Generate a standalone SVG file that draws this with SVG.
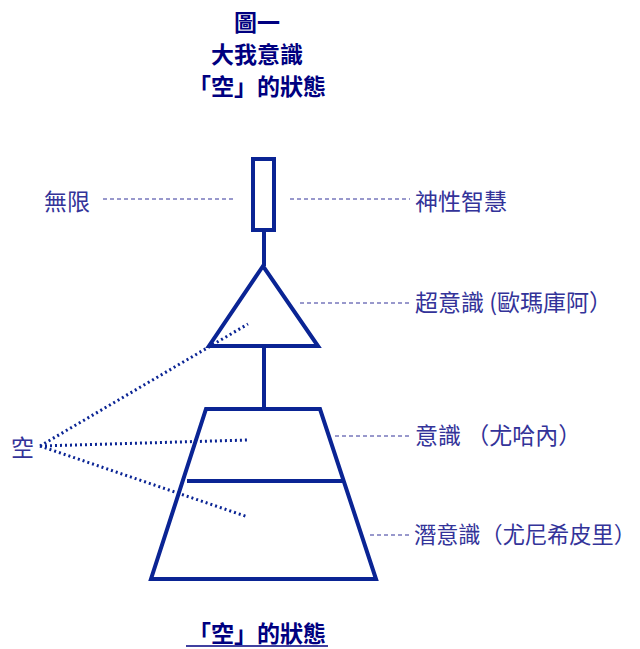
<svg xmlns="http://www.w3.org/2000/svg" width="640" height="649" viewBox="0 0 640 649">
<style>
.title{font-family:"Noto Sans CJK TC","Liberation Sans",sans-serif;font-weight:bold;font-size:23px;fill:#000080;text-anchor:middle}
.lbl{font-family:"Noto Sans CJK TC","Liberation Sans",sans-serif;font-size:23px;fill:#333399}
.shape{fill:none;stroke:#0a2494;stroke-width:4}
.dash{stroke:#333399;stroke-width:1;stroke-dasharray:4 3;fill:none}
.dot{stroke:#0a2494;stroke-width:3;stroke-dasharray:2 3;fill:none}
</style>
<rect width="640" height="649" fill="#fff"/>
<g id="title">
<text class="title" x="257" y="31">圖一</text>
<text class="title" x="257" y="63">大我意識</text>
<text class="title" x="257" y="95">「空」的狀態</text>
</g>
<g id="rect-node"><rect class="shape" x="253" y="159" width="21" height="71"/></g>
<g id="triangle-node"><polygon class="shape" points="263,266 209,346 318,346"/></g>
<g id="trapezoid-node">
<polygon class="shape" points="206,409 320,409 376,579 151,579"/>
<line class="shape" x1="187" y1="481" x2="343" y2="481"/>
</g>
<g id="connectors">
<line class="shape" x1="264" y1="230" x2="264" y2="266"/>
<line class="shape" x1="264" y1="346" x2="264" y2="409"/>
<line class="dash" x1="103" y1="199" x2="233" y2="199"/>
<line class="dash" x1="290" y1="199" x2="410" y2="199"/>
<line class="dash" x1="300" y1="303" x2="410" y2="303"/>
<line class="dash" x1="335" y1="436" x2="410" y2="436"/>
<line class="dash" x1="370" y1="535" x2="410" y2="535"/>
<line class="dot" x1="40" y1="446" x2="248" y2="324"/>
<line class="dot" x1="40" y1="446" x2="248" y2="440"/>
<line class="dot" x1="40" y1="446" x2="248" y2="517"/>
</g>
<g id="labels">
<text class="lbl" x="44" y="210">無限</text>
<text class="lbl" x="415" y="210">神性智慧</text>
<text class="lbl" x="415" y="311">超意識 (歐瑪庫阿）</text>
<text class="lbl" x="415" y="444">意識 （尤哈內）</text>
<text class="lbl" x="414" y="543" style="font-size:22.2px">潛意識（尤尼希皮里）</text>
<text class="lbl" x="11" y="456">空</text>
</g>
<g id="caption">
<text class="title" x="257" y="642">「空」的狀態</text>
<line x1="186" y1="646" x2="328" y2="646" stroke="#000080" stroke-width="1.5"/>
</g>
</svg>
